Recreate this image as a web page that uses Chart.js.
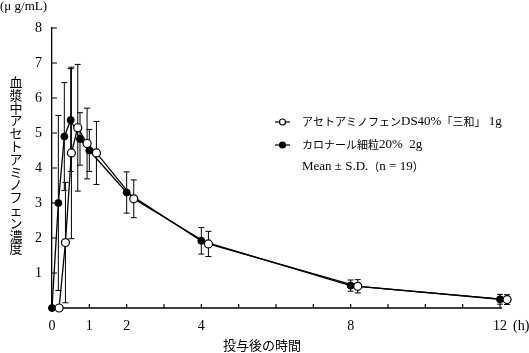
<!DOCTYPE html>
<html>
<head>
<meta charset="utf-8">
<script src="https://cdn.jsdelivr.net/npm/chart.js@4"></script>
<style>
  html, body { margin: 0; padding: 0; background: #fff; }
  canvas { display: block; }
</style>
</head>
<body>
<canvas id="chart" width="529" height="353"></canvas>
<script>
// sampling times (h)
const timesH = [0, 0.17, 0.33, 0.5, 0.75, 1, 2, 4, 8, 12];
// open circles are drawn a little to the right so the bars don't overlap
const OPEN_SHIFT = 0.19;

const openLabel = 'アセトアミノフェンDS40%「三和」 1g';
const openMean = [0, 1.87, 4.43, 5.15, 4.7, 4.43, 3.12, 1.83, 0.62, 0.24];
const openSD   = [0, 1.72, 2.45, 1.81, 1.01, 0.9, 0.54, 0.36, 0.19, 0.14];

const filledLabel = 'カロナール細粒20%  2g';
const filledMean = [0, 3.0, 4.9, 5.37, 4.83, 4.5, 3.3, 1.92, 0.64, 0.25];
const filledSD   = [0, 2.5, 1.54, 1.47, 0.75, 0.6, 0.59, 0.38, 0.16, 0.14];

const xLabelTicks = [0, 1, 2, 4, 8, 12];
const X_END = 12;
const yTitle = '血漿中アセトアミノフェン濃度';
const xTitle = '投与後の時間';
const yUnit = '(μ g/mL)';
const xUnit = '(h)';
const noteText = 'Mean ± S.D.（n = 19）';

const SERIF = "'Liberation Serif', 'Noto Sans CJK JP', serif";
const CJK = "'Noto Sans CJK JP', sans-serif";
const CJK_RE = /[\u3000-\u30ff\u4e00-\u9fff\uff00-\uffef]/;

// Latin in a Times-like face, kana/kanji a bit smaller, like the printed figure
function drawMixed(ctx, text, x, y) {
    const runs = text.match(/[\u3000-\u30ff\u4e00-\u9fff\uff00-\uffef]+|[^\u3000-\u30ff\u4e00-\u9fff\uff00-\uffef]+/g);
    runs.forEach(run => {
        ctx.font = CJK_RE.test(run) ? '11px ' + CJK : '13px ' + SERIF;
        ctx.fillText(run, x, y);
        x += ctx.measureText(run).width;
    });
}

const errorBars = {
    id: 'errorBars',
    beforeDatasetsDraw(chart) {
        const { ctx, scales: { x, y } } = chart;
        ctx.save();
        ctx.strokeStyle = '#000';
        ctx.lineWidth = 1;
        chart.data.datasets.forEach(ds => {
            ds.data.forEach((p, i) => {
                const sd = ds.sd[i];
                if (!sd) return;
                const px = x.getPixelForValue(p.x);
                const top = y.getPixelForValue(p.y + sd);
                const bot = y.getPixelForValue(Math.max(p.y - sd, 0));
                ctx.beginPath();
                ctx.moveTo(px, top); ctx.lineTo(px, bot);
                ctx.moveTo(px - 3, top); ctx.lineTo(px + 3, top);
                ctx.moveTo(px - 3, bot); ctx.lineTo(px + 3, bot);
                ctx.stroke();
            });
        });
        ctx.restore();
    }
};

const decorations = {
    id: 'decorations',
    beforeDatasetsDraw(chart) {
        // x axis line stops at 12 h while the scale runs a bit further
        const { ctx, chartArea: area, scales: { x } } = chart;
        ctx.save();
        ctx.strokeStyle = '#000';
        ctx.lineWidth = 1.3;
        ctx.beginPath();
        ctx.moveTo(x.getPixelForValue(0), area.bottom);
        ctx.lineTo(x.getPixelForValue(X_END) + 2, area.bottom);
        ctx.stroke();
        ctx.restore();
    },
    afterDraw(chart) {
        const { ctx, chartArea: area, scales: { x, y } } = chart;
        ctx.save();
        ctx.strokeStyle = '#000';
        ctx.fillStyle = '#000';
        ctx.lineWidth = 1.2;

        // inner tick marks
        ctx.beginPath();
        for (let v = 0; v <= X_END; v++) {
            const px = x.getPixelForValue(v);
            ctx.moveTo(px, area.bottom); ctx.lineTo(px, area.bottom - 4);
        }
        for (let v = 1; v <= 8; v++) {
            const py = y.getPixelForValue(v);
            ctx.moveTo(area.left, py); ctx.lineTo(area.left + 5, py);
        }
        ctx.stroke();

        // units
        ctx.textBaseline = 'middle';
        ctx.textAlign = 'left';
        ctx.font = '13px ' + SERIF;
        ctx.fillText(yUnit, 0, 7);
        ctx.font = '14px ' + SERIF;
        ctx.fillText(xUnit, 513, 326);

        // axis titles
        ctx.font = '13px ' + CJK;
        ctx.textAlign = 'center';
        ctx.fillText(xTitle, 262, 345);
        [...yTitle].forEach((ch, i) => ctx.fillText(ch, 16, 82 + i * 12.8));

        // legend
        const rows = [
            { label: openLabel, fill: '#fff', y: 122 },
            { label: filledLabel, fill: '#000', y: 145 }
        ];
        ctx.textAlign = 'left';
        rows.forEach(row => {
            ctx.beginPath();
            ctx.lineWidth = 1.2;
            ctx.moveTo(275, row.y); ctx.lineTo(290, row.y);
            ctx.stroke();
            ctx.beginPath();
            ctx.arc(282.5, row.y, 3, 0, Math.PI * 2);
            ctx.fillStyle = row.fill;
            ctx.fill();
            ctx.stroke();
            ctx.fillStyle = '#000';
            drawMixed(ctx, row.label, 302, row.y);
        });
        drawMixed(ctx, noteText, 302, 167);
        ctx.restore();
    }
};

const toPoints = (times, vals, shift) => times.map((t, i) => ({ x: t + shift, y: vals[i] }));

new Chart(document.getElementById('chart'), {
    type: 'line',
    data: {
        datasets: [
            {
                label: openLabel,
                data: toPoints(timesH, openMean, OPEN_SHIFT),
                sd: openSD,
                clip: false,
                borderColor: '#000',
                borderWidth: 1.3,
                pointRadius: 4,
                pointBackgroundColor: '#fff',
                pointBorderColor: '#000',
                pointBorderWidth: 1.2,
                tension: 0
            },
            {
                label: filledLabel,
                data: toPoints(timesH, filledMean, 0),
                sd: filledSD,
                clip: false,
                borderColor: '#000',
                borderWidth: 1.3,
                pointRadius: 3.5,
                pointBackgroundColor: '#000',
                pointBorderColor: '#000',
                pointBorderWidth: 1,
                tension: 0
            }
        ]
    },
    options: {
        responsive: false,
        animation: false,
        layout: { padding: { left: 0, top: 28, right: 17.8, bottom: 0 } },
        plugins: { legend: { display: false }, tooltip: { enabled: false } },
        scales: {
            x: {
                type: 'linear',
                min: 0,
                max: 12.3,
                afterFit: s => { s.height = 45; },
                afterBuildTicks: s => { s.ticks = xLabelTicks.map(v => ({ value: v })); },
                grid: { display: false, drawTicks: false },
                border: { display: false },
                ticks: {
                    padding: 10,
                    color: '#000',
                    maxRotation: 0,
                    autoSkip: false,
                    font: { family: SERIF, size: 14 }
                }
            },
            y: {
                min: 0,
                max: 8,
                afterFit: s => { s.width = 52; },
                grid: { display: true, drawOnChartArea: false, drawTicks: false },
                border: { display: true, color: '#000', width: 1.3 },
                ticks: {
                    stepSize: 1,
                    padding: 10,
                    color: '#000',
                    font: { family: SERIF, size: 14 },
                    callback: v => (v === 0 ? '' : v)
                }
            }
        }
    },
    plugins: [errorBars, decorations]
});
</script>
</body>
</html>
